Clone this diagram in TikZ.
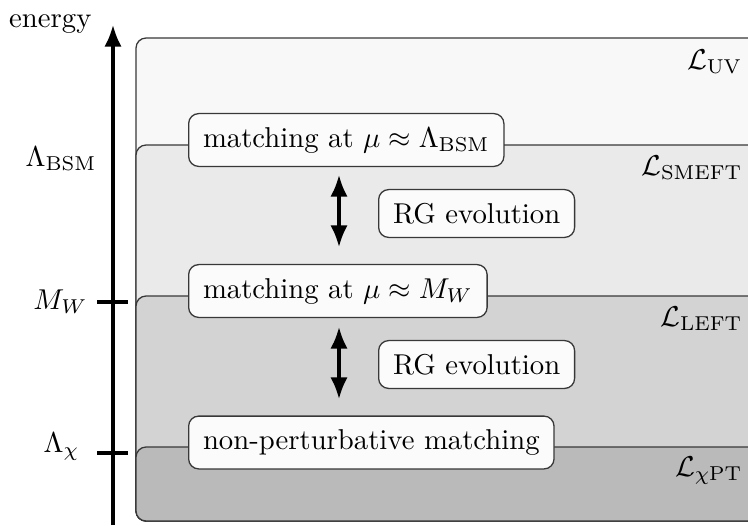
\documentclass[tikz,border=0pt]{standalone}
\usetikzlibrary{arrows.meta}
\definecolor{uvc}{gray}{0.973}
\definecolor{smc}{gray}{0.918}
\definecolor{lfc}{gray}{0.827}
\definecolor{cpc}{gray}{0.73}
\definecolor{edgec}{gray}{0.22}
\definecolor{boxc}{gray}{0.985}
\begin{document}
\begin{tikzpicture}[x=0.3484pt,y=-0.3484pt,
 layer/.style={draw=edgec, line width=0.45pt, rounded corners=3.5pt},
 stepbox/.style={draw=edgec, fill=boxc, rounded corners=3.5pt, inner xsep=5pt, inner ysep=4.7pt, anchor=west, line width=0.45pt},
 lag/.style={anchor=base east, inner sep=0pt},
 scalelabel/.style={anchor=base east, inner sep=0pt},
 axisline/.style={line width=1.1pt, -{Latex[length=7.5pt,width=6pt]}},
 evo/.style={line width=1.1pt, {Latex[length=7.5pt,width=6pt]}-{Latex[length=7.5pt,width=6pt]}},
 tickmark/.style={line width=1.1pt}]
\useasboundingbox (0,0) rectangle (748,525);
\clip (0,0) rectangle (748,525);
% layers
\draw[layer, fill=uvc] (136,38) rectangle (790,521);
\draw[layer, fill=smc] (136,145) rectangle (790,521);
\draw[layer, fill=lfc] (136,296) rectangle (790,521);
\draw[layer, fill=cpc] (136,447) rectangle (790,521);
% layer labels
\node[lag] (luv) at (743,69) {$\mathcal{L}_{\mathrm{UV}}$};
\node[lag] (lsm) at (743,175) {$\mathcal{L}_{\mathrm{SMEFT}}$};
\node[lag] (llf) at (743,326) {$\mathcal{L}_{\mathrm{LEFT}}$};
\node[lag] (lcp) at (743,476) {$\mathcal{L}_{\chi\mathrm{PT}}$};
% axis
\coordinate (axb) at (113,525);
\coordinate (axt) at (113,25);
\draw[axisline] (axb) -- (axt);
\node[scalelabel] (en) at (92,27) {energy};
\coordinate (t1a) at (97,302);
\coordinate (t1b) at (128,302);
\draw[tickmark] (t1a) -- (t1b);
\coordinate (t2a) at (97,453);
\coordinate (t2b) at (128,453);
\draw[tickmark] (t2a) -- (t2b);
\node[scalelabel] (lbsm) at (97,166) {$\Lambda_{\mathrm{BSM}}$};
\node[scalelabel] (lmw) at (88,309) {$M_W$};
\node[scalelabel] (lchi) at (80,452) {$\Lambda_\chi$};
% step boxes
\node[stepbox] (m1) at (188,140) {matching at $\mu\approx\Lambda_{\mathrm{BSM}}$};
\node[stepbox] (m2) at (188,291) {matching at $\mu\approx M_W$};
\node[stepbox] (m3) at (188,442.5) {non-perturbative matching};
\node[stepbox] (r1) at (378,213.5) {RG evolution};
\node[stepbox] (r2) at (378,364.5) {RG evolution};
% evolution arrows
\coordinate (a1t) at (339,175);
\coordinate (a1b) at (339,247);
\coordinate (a2t) at (339,327);
\coordinate (a2b) at (339,399);
\draw[evo] (a1t) -- (a1b);
\draw[evo] (a2t) -- (a2b);
\end{tikzpicture}
\end{document}
